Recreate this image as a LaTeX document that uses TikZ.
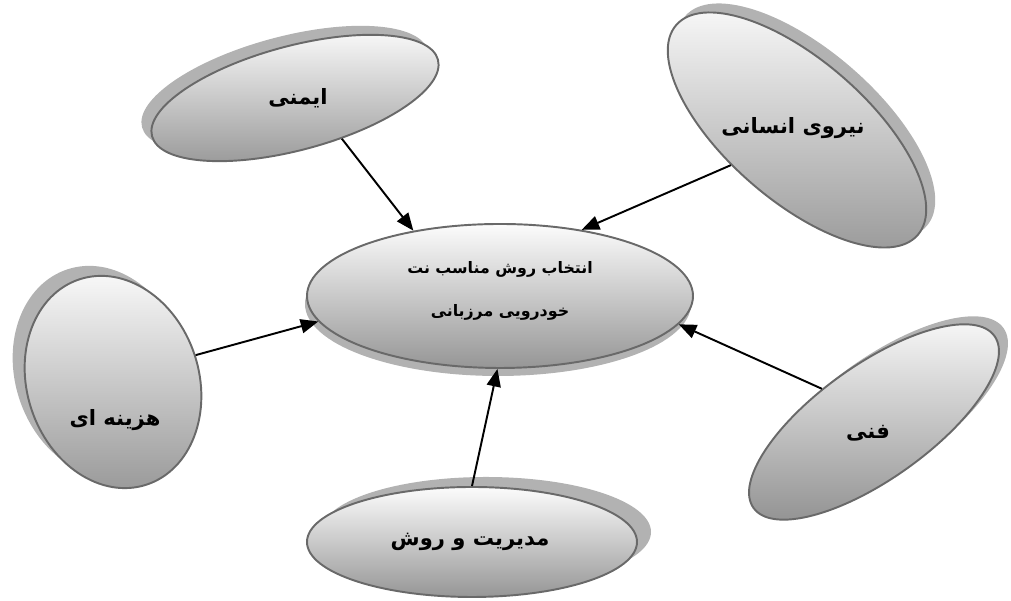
\documentclass[tikz,border=0pt]{standalone}
\usepackage{fontspec}
\usepackage{tikz}
\usetikzlibrary{arrows.meta, shapes.geometric, shadows}
\TeXXeTstate=1
\newfontfamily\farsifont[Script=Arabic]{DejaVu Sans}
\definecolor{rimgray}{RGB}{105,105,105}
\definecolor{shadegray}{RGB}{178,178,178}
\definecolor{topgray}{RGB}{252,252,252}
\definecolor{botgray}{RGB}{150,150,150}
\tikzset{
    % Factor ellipses
    bubble/.style 2 args={ellipse, draw=rimgray, line width=1.1pt,
                top color=topgray, bottom color=botgray, inner sep=0pt,
                drop shadow={shadow xshift=#1, shadow yshift=#2,
                             fill=shadegray, opacity=1}},
    % Labels
    lbl/.style={font=\farsifont\bfseries\fontsize{12}{14}\selectfont},
    goallbl/.style={font=\farsifont\bfseries\fontsize{9}{12}\selectfont, align=center},
    % Connectors
    arr/.style={-{Triangle[length=10pt, width=8pt]}, line width=1.1pt, black},
}
\begin{document}
\begin{tikzpicture}
\useasboundingbox (0,0) rectangle (20.22,12.02);

\node[bubble={-0.04cm}{-0.16cm}, minimum width=7.72cm, minimum height=2.88cm] (goal) at (10.0,6.10) {};
\node[bubble={-0.2cm}{0.18cm}, rotate=15,
      minimum width=5.92cm, minimum height=2.08cm] (ayman) at (5.90,10.06) {};
\node[bubble={0.18cm}{0.18cm}, rotate=-41,
      minimum width=6.4cm, minimum height=2.8cm] (niroo) at (15.94,9.42) {};
\node[bubble={-0.24cm}{0.2cm}, rotate=18,
      minimum width=3.44cm, minimum height=4.32cm] (hazine) at (2.26,4.38) {};
\node[bubble={0.18cm}{0.16cm}, rotate=35.5,
      minimum width=5.92cm, minimum height=2.28cm] (fanni) at (17.48,3.58) {};
\node[bubble={0.28cm}{0.2cm}, minimum width=6.6cm, minimum height=2.2cm] (modiriat) at (9.44,1.18) {};

\node[goallbl] (goaltxt) at (10.0,6.20) {\beginR انتخاب روش مناسب نت\endR\\[12pt]\beginR خودرویی مرزبانی\endR};
\node[lbl] (aymantxt) at (5.96,10.06) {\beginR ایمنی\endR};
\node[lbl] (nirootxt) at (15.86,9.46) {\beginR نیروی انسانی\endR};
\node[lbl] (hazinetxt) at (2.30,3.62) {\beginR هزینه ای\endR};
\node[lbl] (fannitxt) at (17.36,3.36) {\beginR فنی\endR};
\node[lbl] (modiriattxt) at (9.40,1.18) {\beginR مدیریت و روش\endR};

\draw[arr] (ayman.-56) -- (goal.143);
\draw[arr] (niroo.-111) -- (goal.39);
\draw[arr] (hazine.0) -- (goal.188);
\draw[arr] (fanni.112) -- (goal.-9);
\draw[arr] (modiriat.90) -- (goal.-92);
\end{tikzpicture}
\end{document}
